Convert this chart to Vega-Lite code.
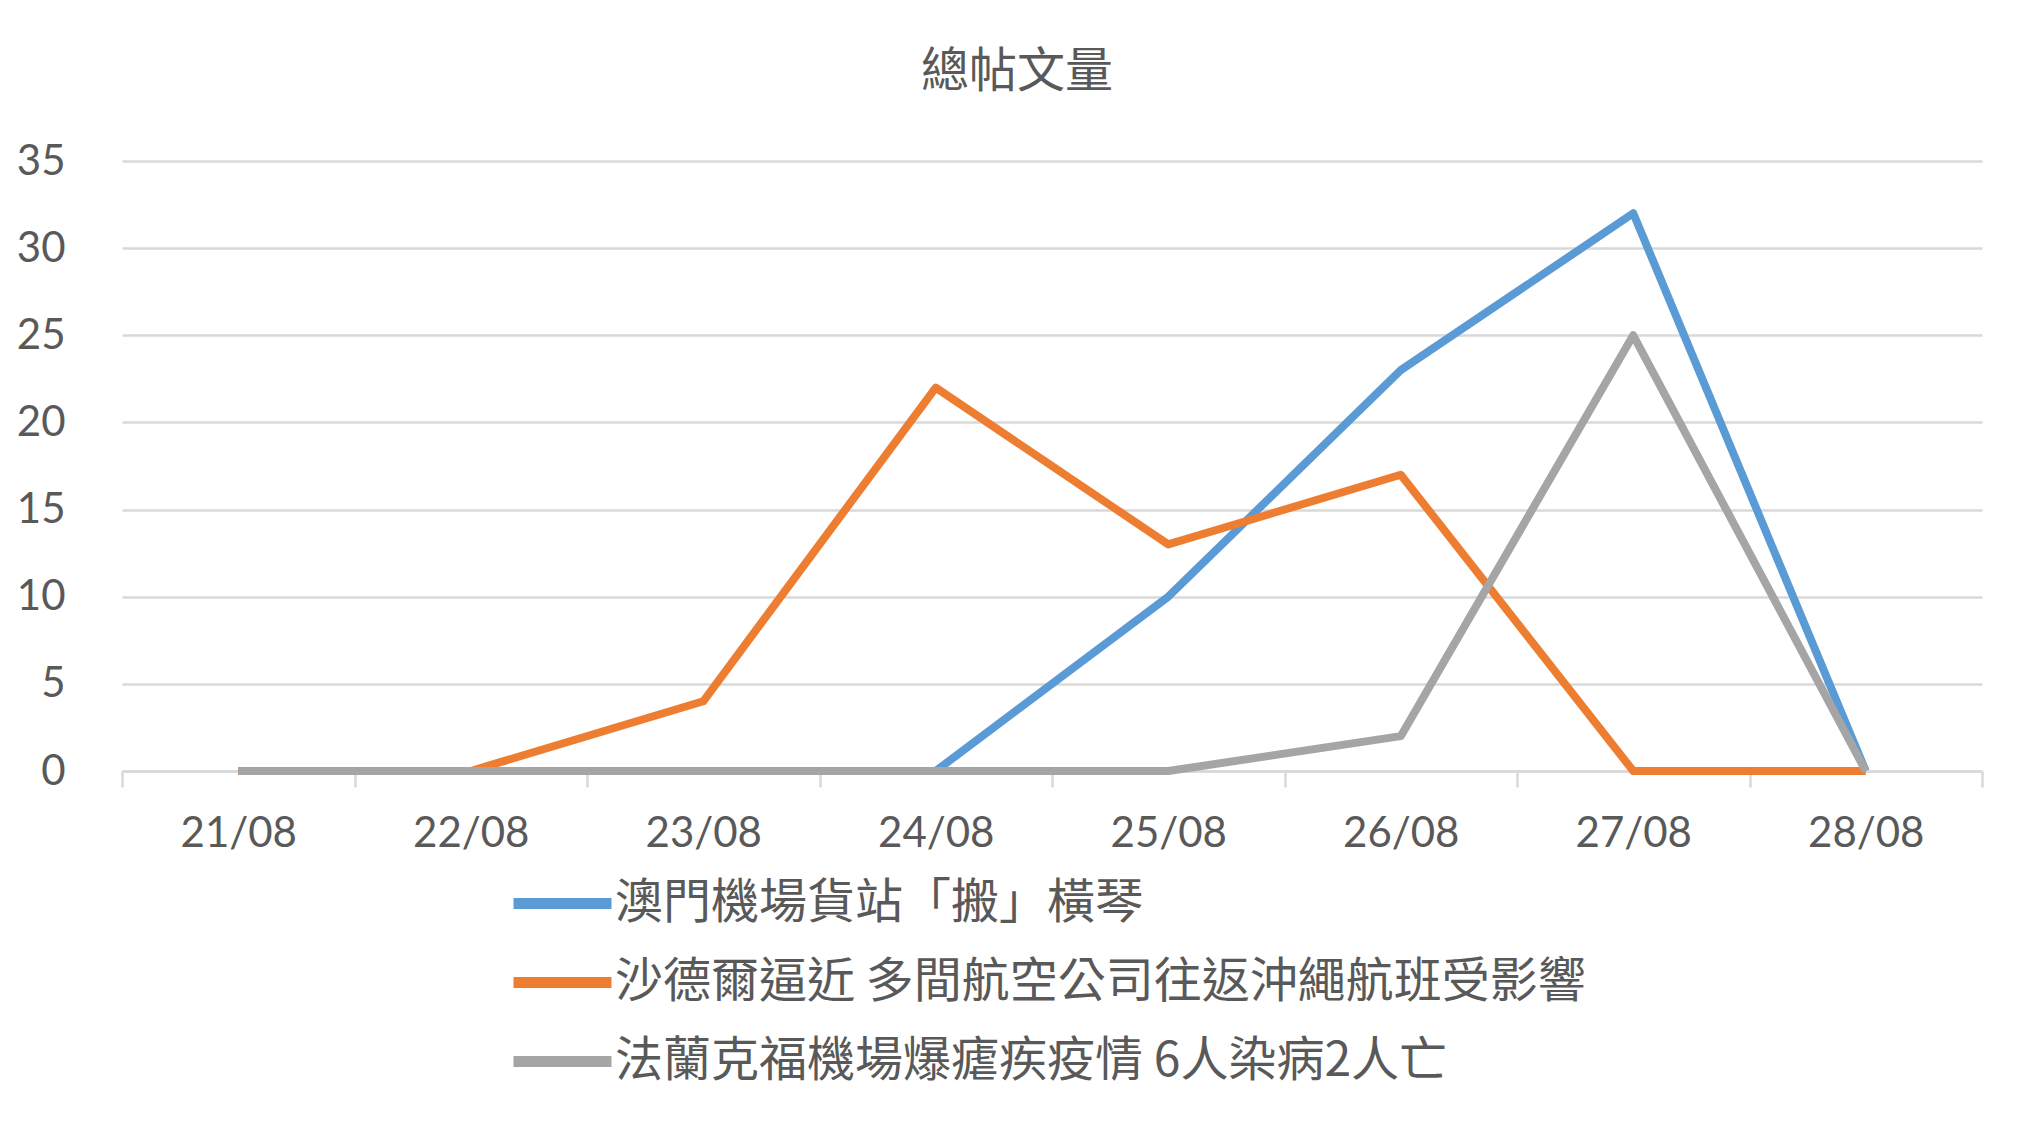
{
  "$schema": "https://vega.github.io/schema/vega-lite/v6.json",
  "description": "總帖文量 line chart, three news topics over 21/08 - 28/08",
  "autosize": {"type": "none"},
  "padding": {"left": 122, "top": 161, "right": 55, "bottom": 372},
  "width": 1860,
  "height": 610,
  "background": "white",
  "title": {
    "text": "總帖文量",
    "font": "Noto Sans CJK TC",
    "fontSize": 48,
    "fontWeight": "normal",
    "color": "#595959",
    "anchor": "middle",
    "frame": "group",
    "dx": -35,
    "offset": 43
  },
  "data": {
    "values": [
      {"date": "21/08", "topic": "澳門機場貨站「搬」橫琴", "posts": 0},
      {"date": "22/08", "topic": "澳門機場貨站「搬」橫琴", "posts": 0},
      {"date": "23/08", "topic": "澳門機場貨站「搬」橫琴", "posts": 0},
      {"date": "24/08", "topic": "澳門機場貨站「搬」橫琴", "posts": 0},
      {"date": "25/08", "topic": "澳門機場貨站「搬」橫琴", "posts": 10},
      {"date": "26/08", "topic": "澳門機場貨站「搬」橫琴", "posts": 23},
      {"date": "27/08", "topic": "澳門機場貨站「搬」橫琴", "posts": 32},
      {"date": "28/08", "topic": "澳門機場貨站「搬」橫琴", "posts": 0},
      {"date": "21/08", "topic": "沙德爾逼近 多間航空公司往返沖繩航班受影響", "posts": 0},
      {"date": "22/08", "topic": "沙德爾逼近 多間航空公司往返沖繩航班受影響", "posts": 0},
      {"date": "23/08", "topic": "沙德爾逼近 多間航空公司往返沖繩航班受影響", "posts": 4},
      {"date": "24/08", "topic": "沙德爾逼近 多間航空公司往返沖繩航班受影響", "posts": 22},
      {"date": "25/08", "topic": "沙德爾逼近 多間航空公司往返沖繩航班受影響", "posts": 13},
      {"date": "26/08", "topic": "沙德爾逼近 多間航空公司往返沖繩航班受影響", "posts": 17},
      {"date": "27/08", "topic": "沙德爾逼近 多間航空公司往返沖繩航班受影響", "posts": 0},
      {"date": "28/08", "topic": "沙德爾逼近 多間航空公司往返沖繩航班受影響", "posts": 0},
      {"date": "21/08", "topic": "法蘭克福機場爆瘧疾疫情 6人染病2人亡", "posts": 0},
      {"date": "22/08", "topic": "法蘭克福機場爆瘧疾疫情 6人染病2人亡", "posts": 0},
      {"date": "23/08", "topic": "法蘭克福機場爆瘧疾疫情 6人染病2人亡", "posts": 0},
      {"date": "24/08", "topic": "法蘭克福機場爆瘧疾疫情 6人染病2人亡", "posts": 0},
      {"date": "25/08", "topic": "法蘭克福機場爆瘧疾疫情 6人染病2人亡", "posts": 0},
      {"date": "26/08", "topic": "法蘭克福機場爆瘧疾疫情 6人染病2人亡", "posts": 2},
      {"date": "27/08", "topic": "法蘭克福機場爆瘧疾疫情 6人染病2人亡", "posts": 25},
      {"date": "28/08", "topic": "法蘭克福機場爆瘧疾疫情 6人染病2人亡", "posts": 0}
    ]
  },
  "mark": {"type": "line", "strokeWidth": 8, "strokeJoin": "round"},
  "encoding": {
    "x": {
      "field": "date",
      "type": "ordinal",
      "sort": ["21/08", "22/08", "23/08", "24/08", "25/08", "26/08", "27/08", "28/08"],
      "scale": {"type": "band", "paddingInner": 0, "paddingOuter": 0},
      "bandPosition": 0.5,
      "axis": {
        "title": null,
        "labelAngle": 0,
        "labelFont": "Lato",
        "labelFontSize": 42,
        "labelColor": "#595959",
        "labelPadding": 26,
        "tickBand": "extent",
        "tickColor": "#d9d9d9",
        "tickSize": 16,
        "tickWidth": 2.5,
        "domainColor": "#d9d9d9",
        "domainWidth": 2.5,
        "grid": false
      }
    },
    "y": {
      "field": "posts",
      "type": "quantitative",
      "scale": {"domain": [0, 35], "nice": false},
      "axis": {
        "title": null,
        "values": [0, 5, 10, 15, 20, 25, 30, 35],
        "domain": false,
        "ticks": false,
        "tickSize": 0,
        "labelPadding": 57,
        "labelFont": "Lato",
        "labelFontSize": 42,
        "labelColor": "#595959",
        "gridColor": "#d9d9d9",
        "gridWidth": 2.5
      }
    },
    "color": {
      "field": "topic",
      "type": "nominal",
      "scale": {
        "domain": ["澳門機場貨站「搬」橫琴", "沙德爾逼近 多間航空公司往返沖繩航班受影響", "法蘭克福機場爆瘧疾疫情 6人染病2人亡"],
        "range": ["#5B9BD5", "#ED7D31", "#A5A5A5"]
      },
      "legend": {
        "orient": "none",
        "legendX": 386,
        "legendY": 688,
        "direction": "vertical",
        "title": null,
        "padding": 0,
        "symbolType": "stroke",
        "symbolSize": 9604,
        "symbolStrokeWidth": 11,
        "labelFont": "Noto Sans CJK TC",
        "labelFontSize": 48,
        "labelColor": "#595959",
        "labelOffset": -2,
        "labelLimit": 0,
        "rowPadding": -20
      }
    }
  },
  "config": {"view": {"stroke": null}}
}
